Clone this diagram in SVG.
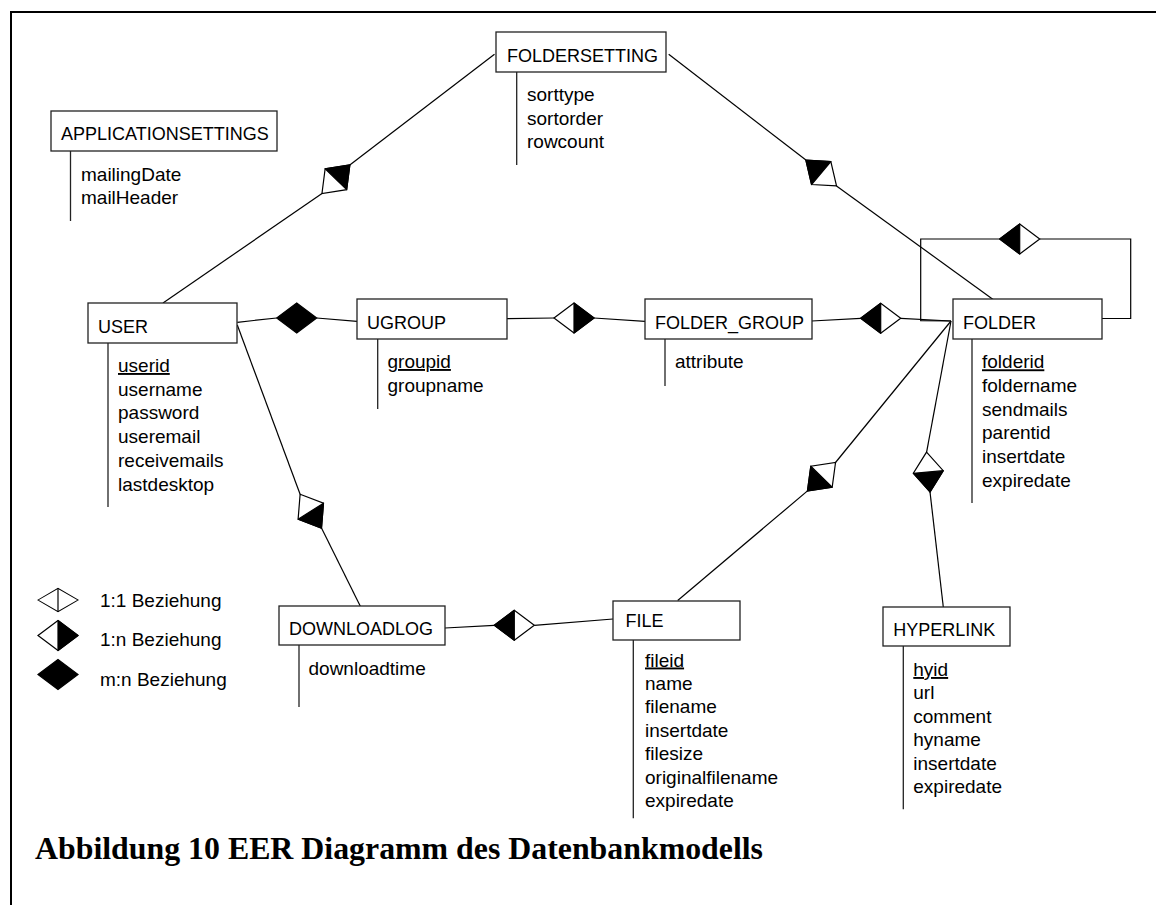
<svg xmlns="http://www.w3.org/2000/svg" xmlns:xlink="http://www.w3.org/1999/xlink" width="1156" height="905" viewBox="0 0 1156 905">
  <style>
    .box { fill: #fff; stroke: #222; stroke-width: 1.3; }
    .title { font-family: "Liberation Sans", Arial, sans-serif; font-size: 18px; fill: #000; }
    .attr { font-family: "Liberation Sans", Arial, sans-serif; font-size: 19px; fill: #000; }
    .key { text-decoration: underline; }
    .aline { stroke: #222; stroke-width: 1.3; fill: none; }
    .conn { stroke: #000; stroke-width: 1.2; fill: none; }
    .frame { stroke: #000; stroke-width: 2; fill: none; }
    .caption { font-family: "Liberation Serif", "Times New Roman", serif; font-weight: bold; font-size: 32px; fill: #000; }
  </style>
  <defs>
    <!-- relationship diamonds: long axis along x, 40 x 30 -->
    <g id="rel11">
      <polygon points="-20,0 0,-15 20,0 0,15" fill="#fff" stroke="#000" stroke-width="1.2"/>
      <line x1="0" y1="-15" x2="0" y2="15" stroke="#000" stroke-width="1.2"/>
    </g>
    <g id="rel1n">
      <polygon points="-20,0 0,-15 20,0 0,15" fill="#fff" stroke="#000" stroke-width="1.2"/>
      <polygon points="0,-15 20,0 0,15" fill="#000" stroke="#000" stroke-width="1.2" stroke-linejoin="round"/>
    </g>
    <g id="relmn">
      <polygon points="-20,0 0,-15 20,0 0,15" fill="#000" stroke="#000" stroke-width="1.2"/>
    </g>
  </defs>

  <rect width="1156" height="905" fill="#fff"/>

  <!-- page frame -->
  <path class="frame" d="M11,905 L11,12 L1156,12"/>

  <!-- connectors -->
  <g id="connectors">
    <!-- USER - FOLDERSETTING -->
    <line class="conn" x1="163" y1="303" x2="322" y2="193.5"/>
    <line class="conn" x1="349.8" y1="164.9" x2="494.5" y2="54.3"/>
    <use xlink:href="#rel1n" transform="translate(335.9,179.2) rotate(-45.8)"/>

    <!-- FOLDERSETTING - FOLDER -->
    <line class="conn" x1="668.7" y1="54.3" x2="805.9" y2="160.1"/>
    <line class="conn" x1="836.5" y1="185.9" x2="998.3" y2="303.3"/>
    <use xlink:href="#rel1n" transform="translate(821.2,173) rotate(220)"/>

    <!-- USER - UGROUP -->
    <line class="conn" x1="237.3" y1="322.3" x2="276.7" y2="318"/>
    <line class="conn" x1="316.7" y1="318" x2="357" y2="321.3"/>
    <use xlink:href="#relmn" transform="translate(296.7,318)"/>

    <!-- UGROUP - FOLDER_GROUP -->
    <line class="conn" x1="507" y1="318.7" x2="554" y2="318"/>
    <line class="conn" x1="594" y1="318" x2="645" y2="321.3"/>
    <use xlink:href="#rel1n" transform="translate(574,318)"/>

    <!-- FOLDER_GROUP - FOLDER -->
    <line class="conn" x1="811.7" y1="321" x2="860.7" y2="318.3"/>
    <line class="conn" x1="900.7" y1="318.3" x2="951" y2="321"/>
    <use xlink:href="#rel1n" transform="translate(880.7,318.3) rotate(180)"/>

    <!-- FOLDER self relation (parent folder) -->
    <path class="conn" d="M951,321 L920.7,320.7 L920.7,239 L999.7,239"/>
    <path class="conn" d="M1039.7,239 L1130.7,239 L1130.7,318.5 L1101.7,318.5"/>
    <use xlink:href="#rel1n" transform="translate(1019.7,239) rotate(180)"/>

    <!-- FOLDER - FILE -->
    <line class="conn" x1="951" y1="321" x2="835.5" y2="462.5"/>
    <line class="conn" x1="807.5" y1="490.9" x2="677.7" y2="600.5"/>
    <use xlink:href="#rel1n" transform="translate(821.5,476.7) rotate(134.6)"/>

    <!-- FOLDER - HYPERLINK -->
    <line class="conn" x1="951" y1="321" x2="926.6" y2="452.1"/>
    <line class="conn" x1="930" y1="491.9" x2="943.3" y2="607"/>
    <use xlink:href="#rel1n" transform="translate(928.3,472) rotate(85)"/>

    <!-- USER - DOWNLOADLOG -->
    <line class="conn" x1="237.3" y1="325" x2="300.1" y2="494.3"/>
    <line class="conn" x1="321.5" y1="528.1" x2="361.7" y2="609"/>
    <use xlink:href="#rel1n" transform="translate(310.8,511.2) rotate(57.7)"/>

    <!-- DOWNLOADLOG - FILE -->
    <line class="conn" x1="445" y1="628" x2="494.3" y2="625.3"/>
    <line class="conn" x1="534.3" y1="625.3" x2="613" y2="619"/>
    <use xlink:href="#rel1n" transform="translate(514.3,625.3) rotate(180)"/>
  </g>

  <!-- entities -->
  <g id="applicationsettings">
    <rect class="box" x="51" y="111" width="226" height="40"/>
    <text class="title" x="61" y="140">APPLICATIONSETTINGS</text>
    <line class="aline" x1="70.5" y1="151" x2="70.5" y2="221"/>
    <text class="attr" x="81" y="181">mailingDate</text>
    <text class="attr" x="81" y="204">mailHeader</text>
  </g>

  <g id="foldersetting">
    <rect class="box" x="496" y="32" width="170" height="40"/>
    <text class="title" x="507" y="61.5">FOLDERSETTING</text>
    <line class="aline" x1="516.7" y1="72" x2="516.7" y2="165"/>
    <text class="attr" x="527" y="101">sorttype</text>
    <text class="attr" x="527" y="124.5">sortorder</text>
    <text class="attr" x="527" y="148">rowcount</text>
  </g>

  <g id="user">
    <rect class="box" x="88" y="303" width="149" height="40"/>
    <text class="title" x="98" y="332.5">USER</text>
    <line class="aline" x1="108" y1="343" x2="108" y2="507"/>
    <text class="attr key" x="118" y="372">userid</text>
    <text class="attr" x="118" y="395.7">username</text>
    <text class="attr" x="118" y="419.4">password</text>
    <text class="attr" x="118" y="443.1">useremail</text>
    <text class="attr" x="118" y="466.8">receivemails</text>
    <text class="attr" x="118" y="490.5">lastdesktop</text>
  </g>

  <g id="ugroup">
    <rect class="box" x="357" y="299" width="150" height="40"/>
    <text class="title" x="367" y="328.5">UGROUP</text>
    <line class="aline" x1="377.7" y1="339" x2="377.7" y2="409"/>
    <text class="attr key" x="387.5" y="368">groupid</text>
    <text class="attr" x="387.5" y="391.7">groupname</text>
  </g>

  <g id="folder_group">
    <rect class="box" x="645" y="299" width="167" height="40"/>
    <text class="title" x="655" y="328.5">FOLDER_GROUP</text>
    <line class="aline" x1="665" y1="339" x2="665" y2="386"/>
    <text class="attr" x="675" y="368">attribute</text>
  </g>

  <g id="folder">
    <rect class="box" x="953" y="299" width="149" height="40"/>
    <text class="title" x="963" y="328.5">FOLDER</text>
    <line class="aline" x1="972" y1="339" x2="972" y2="503"/>
    <text class="attr key" x="982" y="368.3">folderid</text>
    <text class="attr" x="982" y="392">foldername</text>
    <text class="attr" x="982" y="415.7">sendmails</text>
    <text class="attr" x="982" y="439.4">parentid</text>
    <text class="attr" x="982" y="463.1">insertdate</text>
    <text class="attr" x="982" y="486.8">expiredate</text>
  </g>

  <g id="downloadlog">
    <rect class="box" x="279" y="606" width="166" height="39"/>
    <text class="title" x="289" y="635">DOWNLOADLOG</text>
    <line class="aline" x1="299" y1="645" x2="299" y2="707"/>
    <text class="attr" x="308.5" y="675">downloadtime</text>
  </g>

  <g id="file">
    <rect class="box" x="613" y="601" width="127" height="39"/>
    <text class="title" x="625.5" y="627">FILE</text>
    <line class="aline" x1="633.3" y1="640" x2="633.3" y2="818.3"/>
    <text class="attr key" x="645" y="666.5">fileid</text>
    <text class="attr" x="645" y="689.9">name</text>
    <text class="attr" x="645" y="713.3">filename</text>
    <text class="attr" x="645" y="736.7">insertdate</text>
    <text class="attr" x="645" y="760.1">filesize</text>
    <text class="attr" x="645" y="783.5">originalfilename</text>
    <text class="attr" x="645" y="806.9">expiredate</text>
  </g>

  <g id="hyperlink">
    <rect class="box" x="883" y="607" width="127" height="39"/>
    <text class="title" x="893.3" y="636">HYPERLINK</text>
    <line class="aline" x1="903.3" y1="646" x2="903.3" y2="809.3"/>
    <text class="attr key" x="913.3" y="676">hyid</text>
    <text class="attr" x="913.3" y="699.4">url</text>
    <text class="attr" x="913.3" y="722.8">comment</text>
    <text class="attr" x="913.3" y="746.2">hyname</text>
    <text class="attr" x="913.3" y="769.6">insertdate</text>
    <text class="attr" x="913.3" y="793">expiredate</text>
  </g>

  <!-- legend -->
  <g id="legend">
    <use xlink:href="#rel11" transform="translate(58,600) scale(1,0.78)"/>
    <text class="attr" x="100" y="606.5">1:1 Beziehung</text>
    <use xlink:href="#rel1n" transform="translate(58,635.5)"/>
    <text class="attr" x="100" y="646">1:n Beziehung</text>
    <use xlink:href="#relmn" transform="translate(58,674.5)"/>
    <text class="attr" x="100" y="685.5">m:n Beziehung</text>
  </g>

  <!-- figure caption -->
  <text class="caption" x="35" y="858.5" textLength="728" lengthAdjust="spacingAndGlyphs">Abbildung 10 EER Diagramm des Datenbankmodells</text>
</svg>
